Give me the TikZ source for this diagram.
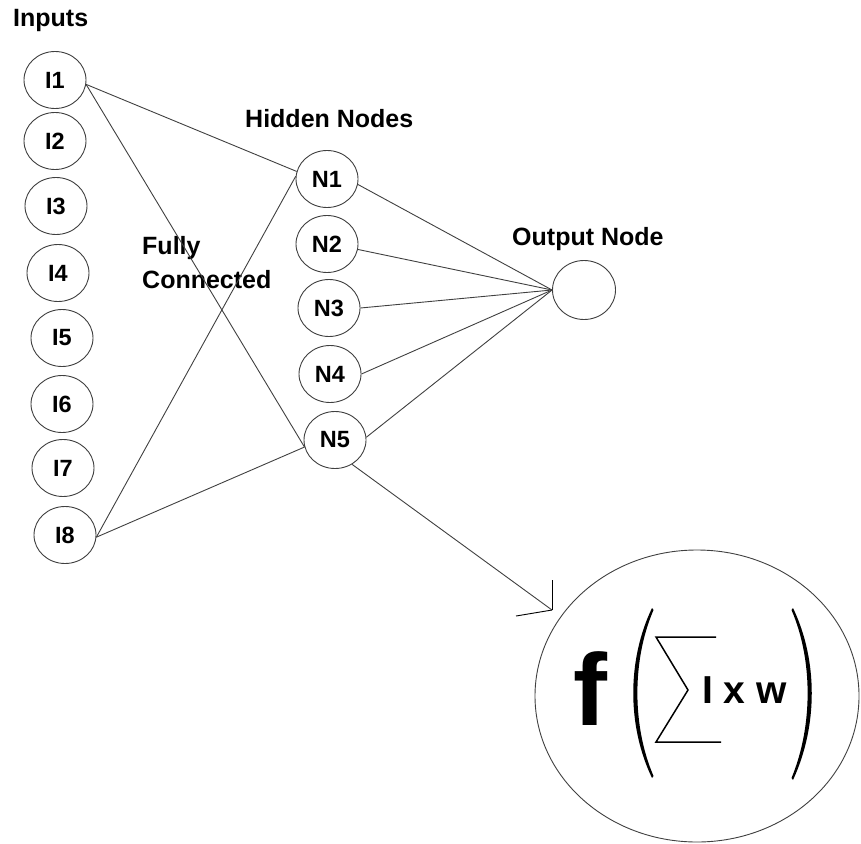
\documentclass[tikz,border=0pt]{standalone}
\usepackage{fontspec}
\setmainfont{Liberation Sans}
\usetikzlibrary{shapes.geometric}
\tikzset{
  wire/.style={draw=black!75, line width=0.9pt},
  neuron/.style={ellipse, draw=black!75, line width=0.9pt, minimum width=62pt, minimum height=57pt, inner sep=0pt, font=\fontsize{23.5}{26}\selectfont\bfseries},
  lbl/.style={inner sep=0pt, anchor=base west, font=\fontsize{25}{34}\selectfont\bfseries, align=left},
}
\begin{document}
\begin{tikzpicture}[x=1pt, y=-1pt]
\useasboundingbox (0,0) rectangle (861,843);
% labels
\node[lbl] (inputs) at (13,27) {Inputs};
\node[lbl] (hidden) at (245,127) {Hidden Nodes};
\node[lbl] (outlbl) at (512,245) {Output Node};
\node[lbl] (fully) at (142,288) {Fully\\Connected};
% inputs
\node[neuron] (I1) at (55,80) {I1};
\node[neuron] (I2) at (55,141) {I2};
\node[neuron] (I3) at (56,206) {I3};
\node[neuron] (I4) at (58,273) {I4};
\node[neuron] (I5) at (62,338) {I5};
\node[neuron] (I6) at (62,404) {I6};
\node[neuron] (I7) at (63,468) {I7};
\node[neuron] (I8) at (65,535) {I8};
% hidden
\node[neuron] (N1) at (327,179) {N1};
\node[neuron] (N2) at (327,244) {N2};
\node[neuron] (N3) at (329,308) {N3};
\node[neuron] (N4) at (330,374) {N4};
\node[neuron] (N5) at (335,440) {N5};
% output
\node[neuron, minimum width=63pt, minimum height=59pt] (Out) at (584,290) {};
% big formula ellipse
\node[ellipse, draw=black!75, line width=0.9pt, minimum width=324pt, minimum height=292pt, inner sep=0pt] (F) at (697,696) {};
% input connections
\draw[wire] (I1.-8) -- (N1.166);
\draw[wire] (I1.-8) -- (N5.193);
\draw[wire] (I8.-4) -- (N1.175);
\draw[wire] (I8.-4) -- (N5.193);
% hidden to output
\draw[wire] (N1.-10) -- (Out.west);
\draw[wire] (N2.-10) -- (Out.west);
\draw[wire] (N3.east) -- (Out.west);
\draw[wire] (N4.east) -- (Out.west);
\draw[wire] (N5.5) -- (Out.west);
% arrow to formula
\coordinate (tip) at (552,610);
\draw[wire] (N5.-55) -- (tip);
\draw[wire, draw=black] (tip) -- ++(0,-30);
\draw[wire, draw=black] (tip) -- ++(-36,6);
% formula contents
\node[inner sep=0pt, anchor=base west, font=\fontsize{102}{110}\selectfont\bfseries] (fsym) at (573,725) {f};
\fill[black] (652,608) .. controls (627,660) and (627,726) .. (652,778)
  -- (653.5,776) .. controls (632,726) and (632,660) .. (653.5,610) -- cycle;
\fill[black] (793,608) .. controls (818,660) and (818,726) .. (793,780)
  -- (791.5,778) .. controls (813,726) and (813,660) .. (791.5,610) -- cycle;
\draw[black, line width=1.5pt] (716,637) -- (656,637) -- (688,690) -- (656,742) -- (721,742);
\node[inner sep=0pt, anchor=base west, font=\fontsize{39}{42}\selectfont\bfseries] (ixw) at (702,703) {I x w};
\end{tikzpicture}
\end{document}
